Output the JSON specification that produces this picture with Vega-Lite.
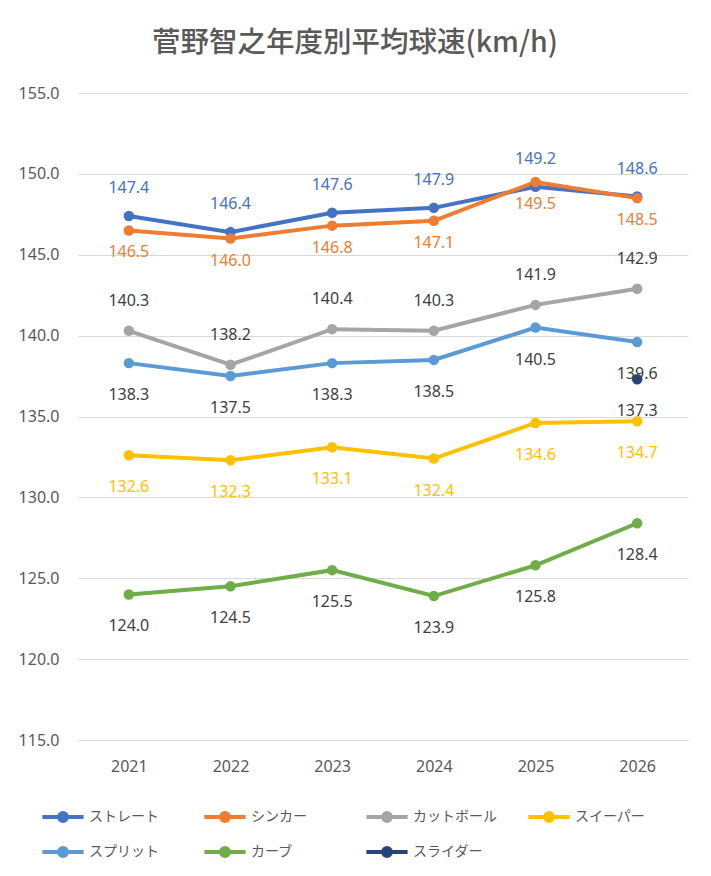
{
  "$schema": "https://vega.github.io/schema/vega-lite/v6.json",
  "autosize": "none",
  "width": 610,
  "height": 647,
  "padding": {"left": 78, "top": 93, "right": 23, "bottom": 136},
  "background": "white",
  "title": {
    "text": "菅野智之年度別平均球速(km/h)",
    "font": "Noto Sans CJK JP",
    "fontSize": 28.5,
    "fontWeight": 500,
    "color": "#595959",
    "anchor": "middle",
    "dx": -28,
    "offset": 28
  },
  "config": {
    "view": {"stroke": null},
    "axis": {"labelFont": "Noto Sans", "labelColor": "#595959", "labelFontSize": 16, "labelOverlap": false},
    "legend": {"labelFont": "Noto Sans CJK JP", "labelColor": "#595959", "labelFontSize": 14}
  },
  "data": {
    "values": [
      {"year": "2021", "pitch": "ストレート", "speed": 147.4},
      {"year": "2022", "pitch": "ストレート", "speed": 146.4},
      {"year": "2023", "pitch": "ストレート", "speed": 147.6},
      {"year": "2024", "pitch": "ストレート", "speed": 147.9},
      {"year": "2025", "pitch": "ストレート", "speed": 149.2},
      {"year": "2026", "pitch": "ストレート", "speed": 148.6},
      {"year": "2021", "pitch": "シンカー", "speed": 146.5},
      {"year": "2022", "pitch": "シンカー", "speed": 146.0},
      {"year": "2023", "pitch": "シンカー", "speed": 146.8},
      {"year": "2024", "pitch": "シンカー", "speed": 147.1},
      {"year": "2025", "pitch": "シンカー", "speed": 149.5},
      {"year": "2026", "pitch": "シンカー", "speed": 148.5},
      {"year": "2021", "pitch": "カットボール", "speed": 140.3},
      {"year": "2022", "pitch": "カットボール", "speed": 138.2},
      {"year": "2023", "pitch": "カットボール", "speed": 140.4},
      {"year": "2024", "pitch": "カットボール", "speed": 140.3},
      {"year": "2025", "pitch": "カットボール", "speed": 141.9},
      {"year": "2026", "pitch": "カットボール", "speed": 142.9},
      {"year": "2021", "pitch": "スイーパー", "speed": 132.6},
      {"year": "2022", "pitch": "スイーパー", "speed": 132.3},
      {"year": "2023", "pitch": "スイーパー", "speed": 133.1},
      {"year": "2024", "pitch": "スイーパー", "speed": 132.4},
      {"year": "2025", "pitch": "スイーパー", "speed": 134.6},
      {"year": "2026", "pitch": "スイーパー", "speed": 134.7},
      {"year": "2021", "pitch": "スプリット", "speed": 138.3},
      {"year": "2022", "pitch": "スプリット", "speed": 137.5},
      {"year": "2023", "pitch": "スプリット", "speed": 138.3},
      {"year": "2024", "pitch": "スプリット", "speed": 138.5},
      {"year": "2025", "pitch": "スプリット", "speed": 140.5},
      {"year": "2026", "pitch": "スプリット", "speed": 139.6},
      {"year": "2021", "pitch": "カーブ", "speed": 124.0},
      {"year": "2022", "pitch": "カーブ", "speed": 124.5},
      {"year": "2023", "pitch": "カーブ", "speed": 125.5},
      {"year": "2024", "pitch": "カーブ", "speed": 123.9},
      {"year": "2025", "pitch": "カーブ", "speed": 125.8},
      {"year": "2026", "pitch": "カーブ", "speed": 128.4},
      {"year": "2026", "pitch": "スライダー", "speed": 137.3}
    ]
  },
  "encoding": {
    "x": {
      "field": "year",
      "type": "ordinal",
      "scale": {"type": "point", "padding": 0.5},
      "axis": {"title": null, "labelAngle": 0, "domain": false, "ticks": false, "labelPadding": 18, "labelFontSize": 16}
    },
    "y": {
      "field": "speed",
      "type": "quantitative",
      "scale": {"domain": [115, 155], "nice": false, "zero": false},
      "axis": {"title": null, "format": ".1f", "values": [115, 120, 125, 130, 135, 140, 145, 150, 155], "domain": false, "ticks": false, "gridColor": "#D9D9D9", "labelPadding": 19, "labelFontSize": 16, "labelOverlap": false}
    }
  },
  "layer": [
    {
      "mark": {"type": "line", "strokeWidth": 4, "point": {"filled": true, "size": 110}},
      "encoding": {
        "color": {
          "field": "pitch",
          "type": "nominal",
          "scale": {
            "domain": ["ストレート", "シンカー", "カットボール", "スイーパー", "スプリット", "カーブ", "スライダー"],
            "range": ["#4472C4", "#ED7D31", "#A5A5A5", "#FFC000", "#5B9BD5", "#70AD47", "#264478"]
          },
          "legend": {
            "title": null,
            "orient": "none",
            "legendX": -38,
            "legendY": 701,
            "direction": "horizontal",
            "columns": 4,
            "gridAlign": "all",
            "columnPadding": 23,
            "rowPadding": -4,
            "symbolType": "M-1,0H1M-0.19,0A0.19,0.19 0 1,1 0.19,0A0.19,0.19 0 1,1 -0.19,0Z",
            "symbolSize": 1700,
            "symbolStrokeWidth": 4,
            "labelOffset": 3
          }
        },
        "order": {"field": "year"}
      }
    },
    {
      "transform": [{"filter": "datum.pitch === 'ストレート'"}],
      "mark": {"type": "text", "dy": -28, "fontSize": 16, "font": "Noto Sans", "color": "#4472C4"},
      "encoding": {"text": {"field": "speed", "type": "quantitative", "format": ".1f"}}
    },
    {
      "transform": [{"filter": "datum.pitch === 'カットボール'"}],
      "mark": {"type": "text", "dy": -30, "fontSize": 16, "font": "Noto Sans", "color": "#404040"},
      "encoding": {"text": {"field": "speed", "type": "quantitative", "format": ".1f"}}
    },
    {
      "transform": [{"filter": "datum.pitch === 'シンカー'"}],
      "mark": {"type": "text", "dy": 22, "fontSize": 16, "font": "Noto Sans", "color": "#ED7D31"},
      "encoding": {"text": {"field": "speed", "type": "quantitative", "format": ".1f"}}
    },
    {
      "transform": [{"filter": "datum.pitch === 'スイーパー'"}],
      "mark": {"type": "text", "dy": 32, "fontSize": 16, "font": "Noto Sans", "color": "#FFC000"},
      "encoding": {"text": {"field": "speed", "type": "quantitative", "format": ".1f"}}
    },
    {
      "transform": [{"filter": "datum.pitch === 'スプリット' || datum.pitch === 'カーブ' || datum.pitch === 'スライダー'"}],
      "mark": {"type": "text", "dy": 32, "fontSize": 16, "font": "Noto Sans", "color": "#404040"},
      "encoding": {"text": {"field": "speed", "type": "quantitative", "format": ".1f"}}
    }
  ]
}
